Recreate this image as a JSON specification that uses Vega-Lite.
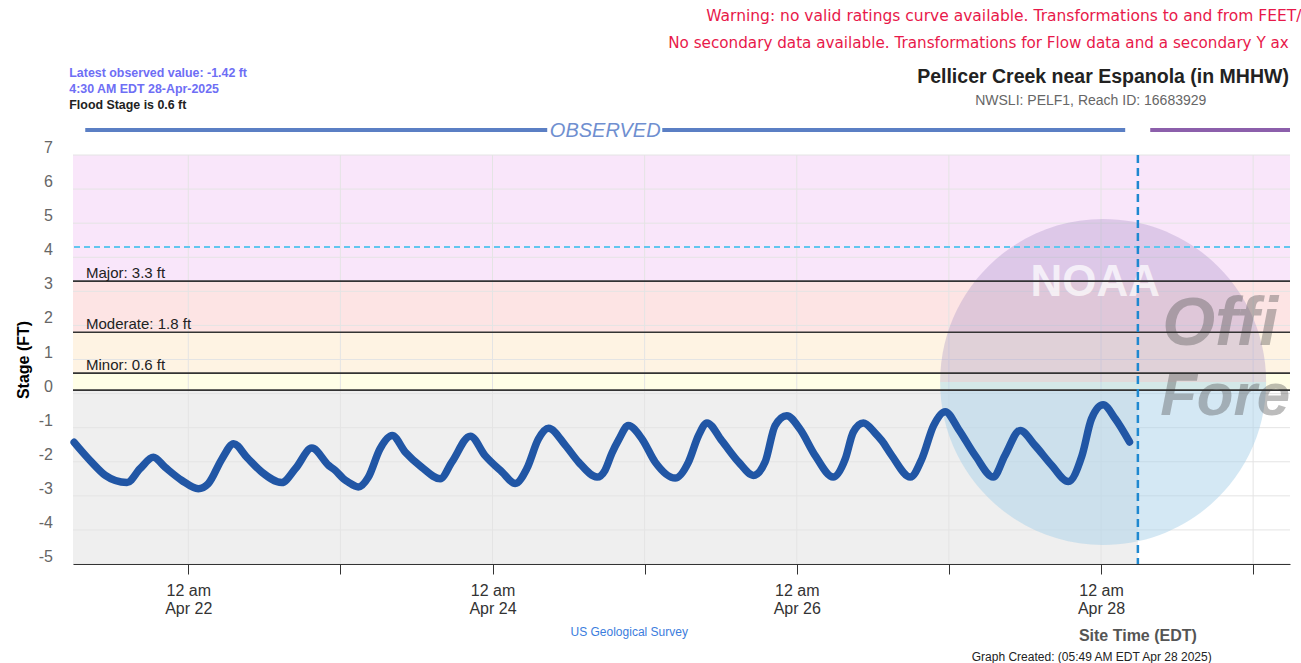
{
  "$schema": "https://vega.github.io/schema/vega-lite/v6.json",
  "width": 1217,
  "height": 409,
  "autosize": {"type": "none"},
  "padding": {"left": 73, "top": 155, "right": 11, "bottom": 99},
  "background": "white",
  "config": {"view": {"stroke": null}, "font": "Liberation Sans"},
  "data": {"values": [{"note": "annotation"}]},
  "datasets": {
    "obs": [
      {"t": "2025-04-21T06:00", "stage": -1.43},
      {"t": "2025-04-21T08:45", "stage": -2.01},
      {"t": "2025-04-21T10:55", "stage": -2.40},
      {"t": "2025-04-21T12:30", "stage": -2.55},
      {"t": "2025-04-21T14:20", "stage": -2.61},
      {"t": "2025-04-21T16:25", "stage": -2.20},
      {"t": "2025-04-21T18:30", "stage": -1.87},
      {"t": "2025-04-21T20:20", "stage": -2.16},
      {"t": "2025-04-21T23:00", "stage": -2.55},
      {"t": "2025-04-22T01:35", "stage": -2.79},
      {"t": "2025-04-22T03:10", "stage": -2.64},
      {"t": "2025-04-22T05:20", "stage": -1.91},
      {"t": "2025-04-22T07:10", "stage": -1.47},
      {"t": "2025-04-22T09:15", "stage": -1.87},
      {"t": "2025-04-22T11:35", "stage": -2.30},
      {"t": "2025-04-22T14:45", "stage": -2.61},
      {"t": "2025-04-22T16:55", "stage": -2.20},
      {"t": "2025-04-22T19:30", "stage": -1.60},
      {"t": "2025-04-22T22:10", "stage": -2.11},
      {"t": "2025-04-22T23:10", "stage": -2.25},
      {"t": "2025-04-23T00:30", "stage": -2.50},
      {"t": "2025-04-23T01:15", "stage": -2.60},
      {"t": "2025-04-23T02:50", "stage": -2.74},
      {"t": "2025-04-23T04:25", "stage": -2.45},
      {"t": "2025-04-23T06:15", "stage": -1.62},
      {"t": "2025-04-23T08:10", "stage": -1.23},
      {"t": "2025-04-23T10:15", "stage": -1.72},
      {"t": "2025-04-23T12:50", "stage": -2.16},
      {"t": "2025-04-23T15:45", "stage": -2.50},
      {"t": "2025-04-23T17:35", "stage": -2.01},
      {"t": "2025-04-23T20:30", "stage": -1.25},
      {"t": "2025-04-23T22:50", "stage": -1.82},
      {"t": "2025-04-24T01:30", "stage": -2.30},
      {"t": "2025-04-24T03:35", "stage": -2.64},
      {"t": "2025-04-24T05:25", "stage": -2.20},
      {"t": "2025-04-24T07:15", "stage": -1.33},
      {"t": "2025-04-24T08:50", "stage": -1.02},
      {"t": "2025-04-24T11:30", "stage": -1.52},
      {"t": "2025-04-24T13:35", "stage": -2.01},
      {"t": "2025-04-24T16:30", "stage": -2.45},
      {"t": "2025-04-24T17:45", "stage": -2.25},
      {"t": "2025-04-24T18:50", "stage": -1.75},
      {"t": "2025-04-24T19:55", "stage": -1.35},
      {"t": "2025-04-24T21:25", "stage": -0.94},
      {"t": "2025-04-24T23:35", "stage": -1.33},
      {"t": "2025-04-25T01:40", "stage": -2.01},
      {"t": "2025-04-25T04:50", "stage": -2.48},
      {"t": "2025-04-25T06:55", "stage": -2.01},
      {"t": "2025-04-25T08:30", "stage": -1.23},
      {"t": "2025-04-25T09:50", "stage": -0.86},
      {"t": "2025-04-25T12:10", "stage": -1.38},
      {"t": "2025-04-25T14:50", "stage": -2.01},
      {"t": "2025-04-25T17:10", "stage": -2.40},
      {"t": "2025-04-25T19:00", "stage": -2.01},
      {"t": "2025-04-25T20:35", "stage": -0.94},
      {"t": "2025-04-25T22:25", "stage": -0.65},
      {"t": "2025-04-26T00:30", "stage": -1.04},
      {"t": "2025-04-26T02:55", "stage": -1.82},
      {"t": "2025-04-26T05:45", "stage": -2.45},
      {"t": "2025-04-26T07:40", "stage": -1.91},
      {"t": "2025-04-26T08:55", "stage": -1.13},
      {"t": "2025-04-26T10:30", "stage": -0.86},
      {"t": "2025-04-26T12:20", "stage": -1.15},
      {"t": "2025-04-26T13:25", "stage": -1.38},
      {"t": "2025-04-26T15:00", "stage": -1.82},
      {"t": "2025-04-26T17:55", "stage": -2.45},
      {"t": "2025-04-26T19:45", "stage": -1.91},
      {"t": "2025-04-26T21:35", "stage": -0.94},
      {"t": "2025-04-26T23:25", "stage": -0.53},
      {"t": "2025-04-27T01:30", "stage": -1.04},
      {"t": "2025-04-27T04:10", "stage": -1.82},
      {"t": "2025-04-27T07:00", "stage": -2.45},
      {"t": "2025-04-27T08:50", "stage": -1.82},
      {"t": "2025-04-27T11:15", "stage": -1.08},
      {"t": "2025-04-27T13:35", "stage": -1.52},
      {"t": "2025-04-27T16:15", "stage": -2.11},
      {"t": "2025-04-27T18:50", "stage": -2.58},
      {"t": "2025-04-27T21:00", "stage": -1.82},
      {"t": "2025-04-27T22:30", "stage": -0.74},
      {"t": "2025-04-28T00:20", "stage": -0.33},
      {"t": "2025-04-28T02:15", "stage": -0.74},
      {"t": "2025-04-28T04:30", "stage": -1.42}
    ],
    "bands": [
      {"cat": "Action", "lo": 0.1, "hi": 0.6},
      {"cat": "Minor", "lo": 0.6, "hi": 1.8},
      {"cat": "Moderate", "lo": 1.8, "hi": 3.3},
      {"cat": "Major", "lo": 3.3, "hi": 7}
    ],
    "stages": [
      {"name": "Action", "value": 0.1, "label": ""},
      {"name": "Minor", "value": 0.6, "label": "Minor: 0.6 ft"},
      {"name": "Moderate", "value": 1.8, "label": "Moderate: 1.8 ft"},
      {"name": "Major", "value": 3.3, "label": "Major: 3.3 ft"}
    ],
    "gridY": [{"v": -5}, {"v": -4}, {"v": -3}, {"v": -2}, {"v": -1}, {"v": 0}, {"v": 1}, {"v": 2}, {"v": 3}, {"v": 4}, {"v": 5}, {"v": 6}, {"v": 7}],
    "gridX": [{"d": "2025-04-22T00:00"}, {"d": "2025-04-23T00:00"}, {"d": "2025-04-24T00:00"}, {"d": "2025-04-25T00:00"}, {"d": "2025-04-26T00:00"}, {"d": "2025-04-27T00:00"}, {"d": "2025-04-28T00:00"}, {"d": "2025-04-29T00:00"}]
  },
  "layer": [
    {
      "data": {"name": "obs"},
      "mark": {"type": "line", "opacity": 0},
      "encoding": {
        "x": {
          "field": "t", "type": "temporal",
          "scale": {"domain": [{"year": 2025, "month": 4, "date": 21, "hours": 5, "minutes": 49}, {"year": 2025, "month": 4, "date": 29, "hours": 5, "minutes": 49}]},
          "axis": {
            "values": [
              {"year": 2025, "month": 4, "date": 22}, {"year": 2025, "month": 4, "date": 23}, {"year": 2025, "month": 4, "date": 24}, {"year": 2025, "month": 4, "date": 25},
              {"year": 2025, "month": 4, "date": 26}, {"year": 2025, "month": 4, "date": 27}, {"year": 2025, "month": 4, "date": 28}, {"year": 2025, "month": 4, "date": 29}
            ],
            "labelExpr": "date(datum.value) % 2 == 0 ? ['12 am', timeFormat(datum.value, '%b %d')] : ''",
            "grid": false, "domainColor": "#333333", "tickColor": "#333333", "tickSize": 10,
            "labelFontSize": 16, "labelColor": "#333333", "labelPadding": 8, "labelLineHeight": 18,
            "labelOverlap": false, "labelFlush": false, "title": null, "zindex": 1
          }
        },
        "y": {
          "field": "stage", "type": "quantitative",
          "scale": {"domain": [-5, 7]},
          "axis": {
            "values": [-5, -4, -3, -2, -1, 0, 1, 2, 3, 4, 5, 6, 7],
            "grid": false, "domain": false, "ticks": false, "labels": false,
            "title": "Stage (FT)", "titleFontSize": 16, "titleFontWeight": "bold", "titleColor": "#000000", "titlePadding": 42, "zindex": 1
          }
        }
      }
    },
    {
      "data": {"name": "gridY"},
      "mark": {"type": "text", "align": "right", "baseline": "middle", "dx": -20, "dy": -7, "fontSize": 16, "color": "#666666"},
      "encoding": {
        "x": {"datum": {"year": 2025, "month": 4, "date": 21, "hours": 5, "minutes": 49}, "type": "temporal"},
        "y": {"field": "v", "type": "quantitative"},
        "text": {"field": "v", "type": "nominal"}
      }
    },
    {
      "mark": {"type": "rect", "color": "#efefef"},
      "encoding": {
        "x": {"datum": {"year": 2025, "month": 4, "date": 21, "hours": 5, "minutes": 49}, "type": "temporal"},
        "x2": {"datum": {"year": 2025, "month": 4, "date": 28, "hours": 5, "minutes": 49}},
        "y": {"datum": -5, "type": "quantitative"},
        "y2": {"datum": 0.1}
      }
    },
    {
      "data": {"name": "bands"},
      "mark": {"type": "rect"},
      "encoding": {
        "y": {"field": "lo", "type": "quantitative"},
        "y2": {"field": "hi"},
        "color": {"field": "cat", "type": "nominal", "scale": {"domain": ["Action", "Minor", "Moderate", "Major"], "range": ["#fffee6", "#fef3e3", "#fde4e4", "#f9e6fa"]}, "legend": null}
      }
    },
    {
      "data": {"name": "gridY"},
      "mark": {"type": "rule", "color": "#e4e4e4", "strokeWidth": 1},
      "encoding": {"y": {"field": "v", "type": "quantitative"}}
    },
    {
      "data": {"name": "gridX"},
      "mark": {"type": "rule", "color": "#e4e4e4", "strokeWidth": 1},
      "encoding": {"x": {"field": "d", "type": "temporal"}}
    },
    {
      "mark": {"type": "point", "shape": "M -1 0 A 1 1 0 0 0 1 0 Z", "size": 106276, "filled": true, "color": "#a9d1e9", "opacity": 0.5, "strokeWidth": 0},
      "encoding": {
        "x": {"datum": {"year": 2025, "month": 4, "date": 28, "hours": 0, "minutes": 20}, "type": "temporal"},
        "y": {"datum": 0.34, "type": "quantitative"}
      }
    },
    {
      "mark": {"type": "point", "shape": "M -1 0 A 1 1 0 0 1 1 0 Z", "size": 106276, "filled": true, "color": "#9a84c0", "opacity": 0.3, "strokeWidth": 0},
      "encoding": {
        "x": {"datum": {"year": 2025, "month": 4, "date": 28, "hours": 0, "minutes": 20}, "type": "temporal"},
        "y": {"datum": 0.34, "type": "quantitative"}
      }
    },
    {
      "mark": {"type": "text", "align": "center", "baseline": "middle", "fontSize": 44, "fontWeight": "bold", "color": "#ffffff", "opacity": 0.7},
      "encoding": {
        "x": {"datum": {"year": 2025, "month": 4, "date": 27, "hours": 23, "minutes": 5}, "type": "temporal"},
        "y": {"datum": 3.245, "type": "quantitative"},
        "text": {"value": "NOAA"}
      }
    },
    {
      "mark": {"type": "text", "align": "left", "baseline": "alphabetic", "fontSize": 68, "fontWeight": "bold", "fontStyle": "italic", "color": "#5a5a5a", "opacity": 0.4},
      "encoding": {
        "x": {"datum": {"year": 2025, "month": 4, "date": 28, "hours": 9, "minutes": 39}, "type": "temporal"},
        "y": {"datum": 1.426, "type": "quantitative"},
        "text": {"value": "Offi"}
      }
    },
    {
      "mark": {"type": "text", "align": "left", "baseline": "alphabetic", "fontSize": 60, "fontWeight": "bold", "fontStyle": "italic", "color": "#5a5a5a", "opacity": 0.4},
      "encoding": {
        "x": {"datum": {"year": 2025, "month": 4, "date": 28, "hours": 9, "minutes": 20}, "type": "temporal"},
        "y": {"datum": -0.628, "type": "quantitative"},
        "text": {"value": "Fore"}
      }
    },
    {
      "data": {"name": "stages"},
      "mark": {"type": "rule", "color": "#333333", "strokeWidth": 1.6},
      "encoding": {"y": {"field": "value", "type": "quantitative"}}
    },
    {
      "data": {"name": "stages"},
      "mark": {"type": "text", "align": "left", "baseline": "alphabetic", "dx": 13, "dy": -3, "fontSize": 15, "color": "#222222"},
      "encoding": {
        "x": {"datum": {"year": 2025, "month": 4, "date": 21, "hours": 5, "minutes": 49}, "type": "temporal"},
        "y": {"field": "value", "type": "quantitative"},
        "text": {"field": "label"}
      }
    },
    {
      "mark": {"type": "rule", "color": "#62c6ee", "strokeWidth": 2, "strokeDash": [6, 4]},
      "encoding": {"y": {"datum": 4.3, "type": "quantitative"}}
    },
    {
      "mark": {"type": "rule", "color": "#1e88d0", "strokeWidth": 2.5, "strokeDash": [8, 5]},
      "encoding": {"x": {"datum": {"year": 2025, "month": 4, "date": 28, "hours": 5, "minutes": 49}, "type": "temporal"}}
    },
    {
      "data": {"name": "obs"},
      "mark": {"type": "line", "color": "#2156a5", "strokeWidth": 7.5, "strokeCap": "round", "strokeJoin": "round", "interpolate": "monotone"},
      "encoding": {
        "x": {"field": "t", "type": "temporal"},
        "y": {"field": "stage", "type": "quantitative"}
      }
    },
    {
      "mark": {"type": "rule", "color": "#5b7fc4", "strokeWidth": 4},
      "encoding": {
        "x": {"datum": {"year": 2025, "month": 4, "date": 21, "hours": 7, "minutes": 45}, "type": "temporal"},
        "x2": {"datum": {"year": 2025, "month": 4, "date": 24, "hours": 8, "minutes": 38}},
        "y": {"datum": 7.734, "type": "quantitative"}
      }
    },
    {
      "mark": {"type": "rule", "color": "#5b7fc4", "strokeWidth": 4},
      "encoding": {
        "x": {"datum": {"year": 2025, "month": 4, "date": 25, "hours": 2, "minutes": 47}, "type": "temporal"},
        "x2": {"datum": {"year": 2025, "month": 4, "date": 28, "hours": 3, "minutes": 49}},
        "y": {"datum": 7.734, "type": "quantitative"}
      }
    },
    {
      "mark": {"type": "rule", "color": "#8c5fab", "strokeWidth": 4},
      "encoding": {
        "x": {"datum": {"year": 2025, "month": 4, "date": 28, "hours": 7, "minutes": 46}, "type": "temporal"},
        "x2": {"datum": {"year": 2025, "month": 4, "date": 29, "hours": 5, "minutes": 49}},
        "y": {"datum": 7.734, "type": "quantitative"}
      }
    },
    {
      "mark": {"type": "text", "align": "center", "baseline": "middle", "fontSize": 20, "fontStyle": "italic", "color": "#6f8fd0"},
      "encoding": {
        "x": {"datum": {"year": 2025, "month": 4, "date": 24, "hours": 17, "minutes": 47}, "type": "temporal"},
        "y": {"datum": 7.705, "type": "quantitative"},
        "text": {"value": "OBSERVED"}
      }
    },
    {
      "mark": {"type": "text", "align": "left", "baseline": "middle", "fontSize": 15.5, "font": "DejaVu Sans", "color": "#e8194a"},
      "encoding": {
        "x": {"datum": {"year": 2025, "month": 4, "date": 25, "hours": 9, "minutes": 43}, "type": "temporal"},
        "y": {"datum": 11.079, "type": "quantitative"},
        "text": {"value": "Warning: no valid ratings curve available. Transformations to and from FEET/"}
      }
    },
    {
      "mark": {"type": "text", "align": "left", "baseline": "middle", "fontSize": 15.2, "font": "DejaVu Sans", "color": "#e8194a"},
      "encoding": {
        "x": {"datum": {"year": 2025, "month": 4, "date": 25, "hours": 3, "minutes": 43}, "type": "temporal"},
        "y": {"datum": 10.287, "type": "quantitative"},
        "text": {"value": "No secondary data available. Transformations for Flow data and a secondary Y ax"}
      }
    },
    {
      "mark": {"type": "text", "align": "left", "baseline": "middle", "fontSize": 19.5, "fontWeight": "bold", "color": "#222222"},
      "encoding": {
        "x": {"datum": {"year": 2025, "month": 4, "date": 26, "hours": 19, "minutes": 0}, "type": "temporal"},
        "y": {"datum": 9.289, "type": "quantitative"},
        "text": {"value": "Pellicer Creek near Espanola (in MHHW)"}
      }
    },
    {
      "mark": {"type": "text", "align": "left", "baseline": "middle", "fontSize": 14, "color": "#666666"},
      "encoding": {
        "x": {"datum": {"year": 2025, "month": 4, "date": 27, "hours": 4, "minutes": 9}, "type": "temporal"},
        "y": {"datum": 8.585, "type": "quantitative"},
        "text": {"value": "NWSLI: PELF1, Reach ID: 16683929"}
      }
    },
    {
      "mark": {"type": "text", "align": "left", "baseline": "middle", "fontSize": 12.4, "fontWeight": "bold", "color": "#6e6ef5"},
      "encoding": {
        "x": {"datum": {"year": 2025, "month": 4, "date": 21, "hours": 5, "minutes": 14}, "type": "temporal"},
        "y": {"datum": 9.406, "type": "quantitative"},
        "text": {"value": "Latest observed value: -1.42 ft"}
      }
    },
    {
      "mark": {"type": "text", "align": "left", "baseline": "middle", "fontSize": 12.4, "fontWeight": "bold", "color": "#6e6ef5"},
      "encoding": {
        "x": {"datum": {"year": 2025, "month": 4, "date": 21, "hours": 5, "minutes": 14}, "type": "temporal"},
        "y": {"datum": 8.937, "type": "quantitative"},
        "text": {"value": "4:30 AM EDT 28-Apr-2025"}
      }
    },
    {
      "mark": {"type": "text", "align": "left", "baseline": "middle", "fontSize": 12.4, "fontWeight": "bold", "color": "#222222"},
      "encoding": {
        "x": {"datum": {"year": 2025, "month": 4, "date": 21, "hours": 5, "minutes": 14}, "type": "temporal"},
        "y": {"datum": 8.467, "type": "quantitative"},
        "text": {"value": "Flood Stage is 0.6 ft"}
      }
    },
    {
      "mark": {"type": "text", "align": "center", "baseline": "middle", "fontSize": 12, "color": "#3b7ddd"},
      "encoding": {
        "x": {"datum": {"year": 2025, "month": 4, "date": 24, "hours": 21, "minutes": 34}, "type": "temporal"},
        "y": {"datum": -6.995, "type": "quantitative"},
        "text": {"value": "US Geological Survey"}
      }
    },
    {
      "mark": {"type": "text", "align": "center", "baseline": "middle", "fontSize": 16, "fontWeight": "bold", "color": "#555555"},
      "encoding": {
        "x": {"datum": {"year": 2025, "month": 4, "date": 28, "hours": 5, "minutes": 49}, "type": "temporal"},
        "y": {"datum": -7.113, "type": "quantitative"},
        "text": {"value": "Site Time (EDT)"}
      }
    },
    {
      "mark": {"type": "text", "align": "center", "baseline": "alphabetic", "fontSize": 12, "color": "#222222"},
      "encoding": {
        "x": {"datum": {"year": 2025, "month": 4, "date": 27, "hours": 22, "minutes": 32}, "type": "temporal"},
        "y": {"datum": -7.84, "type": "quantitative"},
        "text": {"value": "Graph Created: (05:49 AM EDT Apr 28 2025)"}
      }
    }
  ]
}
